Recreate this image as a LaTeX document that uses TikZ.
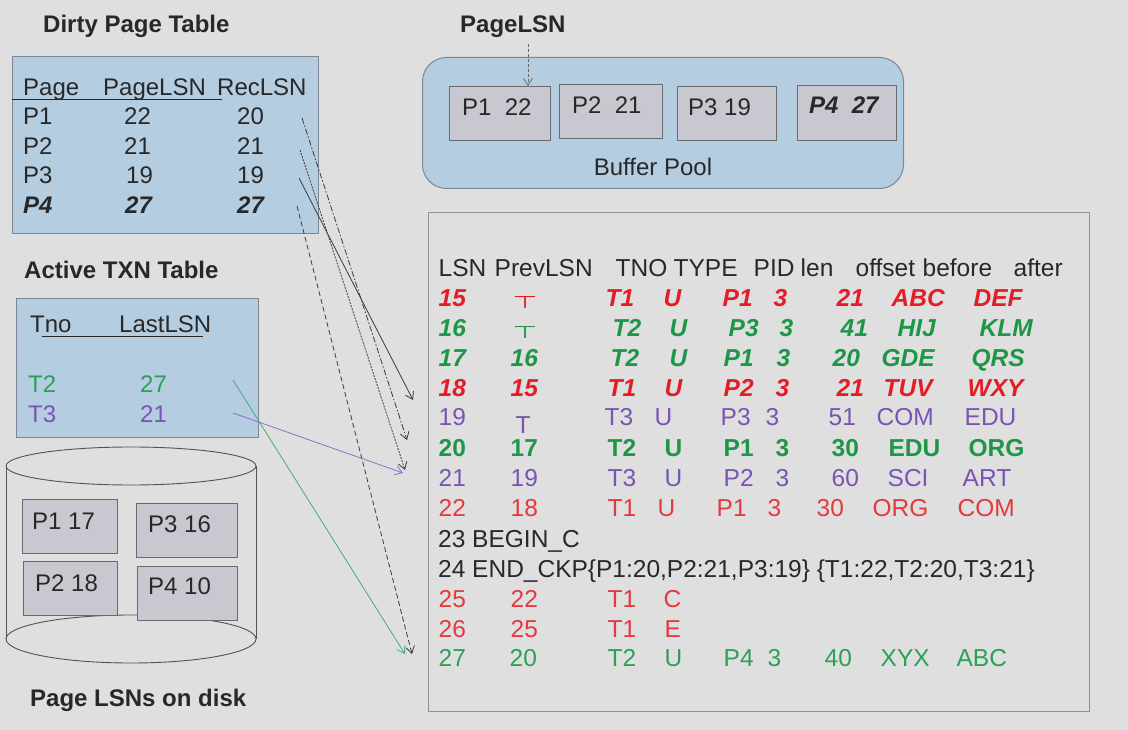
\documentclass[tikz,border=0pt]{standalone}
\usepackage{graphicx}
\usepackage{fontspec}
\setmainfont{Liberation Sans}
\newfontfamily\dejavu{DejaVu Sans}
\usetikzlibrary{arrows.meta}
\definecolor{bg}{RGB}{223,223,223}
\definecolor{ink}{RGB}{40,40,40}
\definecolor{redA}{RGB}{228,28,38}
\definecolor{redB}{RGB}{226,58,62}
\definecolor{greenA}{RGB}{30,150,72}
\definecolor{greenB}{RGB}{44,160,84}
\definecolor{purp}{RGB}{122,84,178}
\definecolor{tblblue}{RGB}{181,205,224}
\definecolor{boxline}{RGB}{125,135,145}
\definecolor{pagefill}{RGB}{200,200,208}
\definecolor{pageline}{RGB}{105,105,110}
\definecolor{arrgray}{RGB}{60,60,60}
\definecolor{arrgreen}{RGB}{70,170,130}
\definecolor{arrpurp}{RGB}{140,110,195}
\newcommand\cellx[2]{\rlap{\hspace*{#1pt}#2}}
\newcommand\nulltk{{\dejavu\upshape\mdseries\raisebox{-2pt}{\resizebox{25pt}{12pt}{\itshape ⊤}}}}
\begin{document}
\begin{tikzpicture}[x=1pt,y=-1pt,
  txt/.style={anchor=base west, inner sep=0pt, text=ink, font=\fontsize{24}{28}\selectfont},
  ttl/.style={anchor=base west, inner sep=0pt, text=ink, font=\fontsize{24}{28}\selectfont\bfseries},
  logrow/.style={anchor=base west, inner sep=0pt, text=ink, font=\fontsize{24.5}{28}\selectfont},
  bluebox/.style={draw=boxline, fill=tblblue, line width=1pt, anchor=north west, inner sep=0pt},
  pagebox/.style={draw=pageline, fill=pagefill, line width=0.9pt, anchor=north west, inner sep=0pt, minimum width=99pt, minimum height=54pt},
  ulin/.style={draw=ink, line width=0.9pt},
  cyl/.style={draw=ink!80, line width=0.9pt},
  arr/.style={line width=0.8pt, -{Straight Barb[length=7pt,width=9pt]}},
]
\fill[bg] (0,0) rectangle (1128,730);
\useasboundingbox (0,0) rectangle (1128,730);

% ---------- Dirty Page Table ----------
\node[ttl] (tdpt) at (43,33) {Dirty Page Table};
\node[bluebox, minimum width=306pt, minimum height=177pt] (dpt) at (12,56) {};
\node[txt] (hpage) at (23,96) {Page};
\node[txt] (hplsn) at (103,96) {PageLSN};
\node[txt] (hrlsn) at (217,96) {RecLSN};
\draw[ulin] (dpt.west |- 0,99) -- (222,99);
\node[txt] (dp1) at (23,125) {P1};
\node[txt] (dl1) at (124,125) {22};
\node[txt] (dr1) at (237,125) {20};
\node[txt] (dp2) at (23,155) {P2};
\node[txt] (dl2) at (124,155) {21};
\node[txt] (dr2) at (237,155) {21};
\node[txt] (dp3) at (23,184) {P3};
\node[txt] (dl3) at (126,184) {19};
\node[txt] (dr3) at (237,184) {19};
\node[txt, font=\fontsize{24}{28}\selectfont\bfseries\itshape] (dp4) at (23,214) {P4};
\node[txt, font=\fontsize{24}{28}\selectfont\bfseries\itshape] (dl4) at (125,214) {27};
\node[txt, font=\fontsize{24}{28}\selectfont\bfseries\itshape] (dr4) at (237,214) {27};

% ---------- Active TXN Table ----------
\node[ttl] (tatt) at (24,279) {Active TXN Table};
\node[bluebox, minimum width=242pt, minimum height=139pt] (att) at (16,298) {};
\node[txt] (htno) at (30,332) {Tno};
\node[txt] (hlast) at (119,332) {LastLSN};
\draw[ulin] (42,336) -- (203,336);
\node[txt, text=greenB] (at2) at (28,392) {T2};
\node[txt, text=greenB] (al2) at (140,392) {27};
\node[txt, text=purp] (at3) at (28,422) {T3};
\node[txt, text=purp] (al3) at (140,422) {21};

% ---------- Disk ----------
\draw[cyl] (6,466) -- (6,639);
\draw[cyl] (256,466) -- (256,639);
\draw[cyl] (131,466) ellipse [x radius=125, y radius=19];
\draw[cyl] (131,639) ellipse [x radius=125, y radius=24];
\node[pagebox, minimum width=95pt] (k1) at (22,499) {};
\node[pagebox, minimum width=101pt] (k3) at (136,503) {};
\node[pagebox, minimum width=94pt] (k2) at (23,561) {};
\node[pagebox, minimum width=100pt] (k4) at (137,566) {};
\node[txt] (k1t) at (32,529) {P1 17};
\node[txt] (k3t) at (148,532) {P3 16};
\node[txt] (k2t) at (35,591) {P2 18};
\node[txt] (k4t) at (148,594) {P4 10};
\node[ttl] (tdisk) at (30,706) {Page LSNs on disk};

% ---------- Buffer pool ----------
\node[ttl] (tplsn) at (460,33) {PageLSN};
\node[draw=boxline, fill=tblblue, line width=1pt, rounded corners=24pt, anchor=north west, inner sep=0pt, minimum width=481pt, minimum height=131pt] (bpool) at (422,57) {};
\node[pagebox, minimum width=101pt] (b1) at (449,86) {};
\node[pagebox, minimum width=103pt] (b2) at (559,84) {};
\node[pagebox, minimum width=99pt] (b3) at (677,86) {};
\node[pagebox, minimum width=99pt, minimum height=55pt] (b4) at (797,85) {};
\node[txt] (b1t) at (462,116) {P1\ \ 22};
\node[txt] (b2t) at (572,114) {P2\ \ 21};
\node[txt] (b3t) at (688,116) {P3 19};
\node[txt, font=\fontsize{24}{28}\selectfont\bfseries\itshape] (b4t) at (809,114) {P4\ \ 27};
\node[txt, anchor=base] (bptxt) at (653,176) {Buffer Pool};
\coordinate (pa) at (528,44);
\draw[arr, draw=arrgray!80, dash pattern=on 3pt off 2pt, line width=0.7pt] (pa) -- (pa |- b1.north);

% ---------- Log ----------
\node[draw=boxline!90, line width=1pt, anchor=north west, inner sep=0pt, minimum width=661pt, minimum height=499pt] (logbox) at (428,212) {};
\node[logrow] (lh) at (438,277) {\cellx{0}{LSN}\cellx{56}{PrevLSN}\cellx{177}{TNO}\cellx{235}{TYPE}\cellx{315}{PID}\cellx{362}{len}\cellx{417}{offset}\cellx{484}{before}\cellx{575}{after}};
\node[logrow, text=redA, font=\fontsize{24.5}{28}\selectfont\bfseries\itshape] (l15) at (438,306) {\cellx{0}{15}\cellx{74}{\nulltk}\cellx{167}{T1}\cellx{225}{U}\cellx{284}{P1}\cellx{335}{3}\cellx{398}{21}\cellx{453}{ABC}\cellx{535}{DEF}};
\node[logrow, text=greenA, font=\fontsize{24.5}{28}\selectfont\bfseries\itshape] (l16) at (438,336) {\cellx{0}{16}\cellx{74}{\nulltk}\cellx{174}{T2}\cellx{231}{U}\cellx{290}{P3}\cellx{341}{3}\cellx{402}{41}\cellx{459}{HIJ}\cellx{541}{KLM}};
\node[logrow, text=greenA, font=\fontsize{24.5}{28}\selectfont\bfseries\itshape] (l17) at (438,366) {\cellx{0}{17}\cellx{72}{16}\cellx{172}{T2}\cellx{231}{U}\cellx{285}{P1}\cellx{338}{3}\cellx{394}{20}\cellx{443}{GDE}\cellx{533}{QRS}};
\node[logrow, text=redA, font=\fontsize{24.5}{28}\selectfont\bfseries\itshape] (l18) at (438,396) {\cellx{0}{18}\cellx{72}{15}\cellx{169}{T1}\cellx{226}{U}\cellx{285}{P2}\cellx{337}{3}\cellx{398}{21}\cellx{445}{TUV}\cellx{529}{WXY}};
\node[logrow, text=purp] (l19) at (438,425) {\cellx{0}{19}\cellx{77}{\raisebox{-8pt}{T}}\cellx{166}{T3}\cellx{216}{U}\cellx{282}{P3}\cellx{327}{3}\cellx{390}{51}\cellx{438}{COM}\cellx{526}{EDU}};
\node[logrow, text=greenA, font=\fontsize{24.5}{28}\selectfont\bfseries] (l20) at (438,456) {\cellx{0}{20}\cellx{72}{17}\cellx{169}{T2}\cellx{226}{U}\cellx{285}{P1}\cellx{337}{3}\cellx{393}{30}\cellx{450}{EDU}\cellx{530}{ORG}};
\node[logrow, text=purp] (l21) at (438,486) {\cellx{0}{21}\cellx{72}{19}\cellx{169}{T3}\cellx{226}{U}\cellx{285}{P2}\cellx{337}{3}\cellx{393}{60}\cellx{449}{SCI}\cellx{524}{ART}};
\node[logrow, text=redB] (l22) at (438,516) {\cellx{0}{22}\cellx{72}{18}\cellx{169}{T1}\cellx{219}{U}\cellx{278}{P1}\cellx{329}{3}\cellx{378}{30}\cellx{434}{ORG}\cellx{519}{COM}};
\node[logrow] (l23) at (438,547) {23 BEGIN\_C};
\node[logrow] (l24) at (438,577) {24 END\_CKP\{P1:20,P2:21,P3:19\} \{T1:22,T2:20,T3:21\}};
\node[logrow, text=redB] (l25) at (438,607) {\cellx{0}{25}\cellx{72}{22}\cellx{169}{T1}\cellx{225}{C}};
\node[logrow, text=redB] (l26) at (438,637) {\cellx{0}{26}\cellx{72}{25}\cellx{169}{T1}\cellx{226}{E}};
\node[logrow, text=greenB] (l27) at (438,666) {\cellx{0}{27}\cellx{71}{20}\cellx{169}{T2}\cellx{226}{U}\cellx{285}{P4}\cellx{329}{3}\cellx{386}{40}\cellx{442}{XYX}\cellx{518}{ABC}};

% ---------- Connectors ----------
\coordinate (s1) at (302,118); \coordinate (e1) at (407,440);
\coordinate (s2) at (300,150); \coordinate (e2) at (405,470);
\coordinate (s3) at (299,178); \coordinate (e3) at (413,400);
\coordinate (s4) at (297,206); \coordinate (e4) at (412,654);
\coordinate (s5) at (233,413); \coordinate (e5) at (403,473);
\coordinate (s6) at (233,380); \coordinate (e6) at (405,654);
\draw[arr, draw=arrgray, dash pattern=on 6pt off 2pt on 1.5pt off 2pt] (s1) -- (e1);
\draw[arr, draw=arrgray, dash pattern=on 2pt off 1.2pt] (s2) -- (e2);
\draw[arr, draw=arrgray] (s3) -- (e3);
\draw[arr, draw=arrgray, dash pattern=on 5pt off 3pt] (s4) -- (e4);
\draw[arr, draw=arrpurp] (s5) -- (e5);
\draw[arr, draw=arrgreen] (s6) -- (e6);
\end{tikzpicture}
\end{document}
